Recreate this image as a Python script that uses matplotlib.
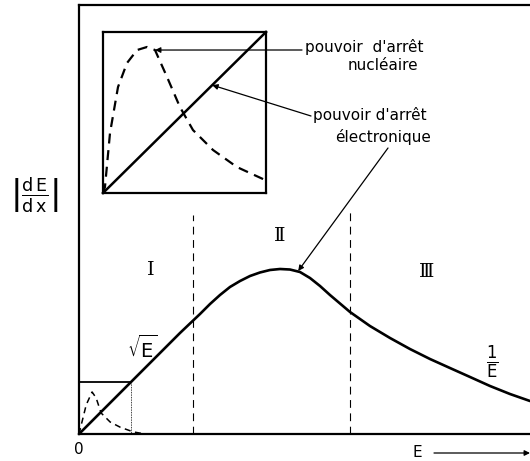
import matplotlib
matplotlib.use("agg")
import matplotlib.pyplot as plt

W, H = 530, 461

# main curve: electronic stopping power vs energy (arbitrary units 0..10)
energy = [0.000, 1.153, 2.239, 2.461, 2.683, 2.905, 3.126, 3.348, 3.570, 3.792, 4.013,
          4.235, 4.457, 4.678, 4.900, 5.122, 5.344, 5.565, 5.787, 6.009, 6.452, 6.896,
          7.339, 7.783, 8.226, 8.670, 9.113, 9.557, 10.000]
stopping = [0.000, 1.212, 2.354, 2.576, 2.797, 3.030, 3.240, 3.427, 3.566, 3.683, 3.765,
            3.823, 3.846, 3.834, 3.776, 3.636, 3.450, 3.240, 3.042, 2.844, 2.517, 2.238,
            1.981, 1.748, 1.538, 1.329, 1.119, 0.932, 0.769]

# nuclear stopping near the origin (same units)
nuc_energy = [0.0, 0.16, 0.29, 0.38, 0.49, 0.69, 0.91, 1.20, 1.46]
nuc_stopping = [0.0, 0.68, 0.98, 0.84, 0.49, 0.28, 0.16, 0.05, 0.0]

# zoomed inset (normalised 0..1)
inset_u = [0.0, 0.012, 0.043, 0.092, 0.147, 0.209, 0.270, 0.319, 0.393, 0.472, 0.552,
           0.675, 0.822, 0.994]
inset_nuc = [0.0, 0.037, 0.373, 0.658, 0.807, 0.888, 0.907, 0.888, 0.720, 0.534, 0.391,
             0.267, 0.161, 0.081]
inset_elec_u = [0.0, 1.0]
inset_elec = [0.0, 1.0]

zoom_E, zoom_S = 1.153, 1.212        # extent of the zoomed region
region_bounds = [2.53, 6.01]          # limits between regions I / II / III
region_tops = [5.1, 5.27]
peak_E, peak_S = 4.86, 3.80


def fpos(x, y):
    return x / W, 1 - y / H


fig = plt.figure(figsize=(W / 100, H / 100), dpi=100)

ax = fig.add_axes([79 / W, (H - 434) / H, 451 / W, 429 / H])
ax.set_xlim(0, 10)
ax.set_ylim(0, 10)
ax.set_xticks([])
ax.set_yticks([])
ax.spines["right"].set_visible(False)
for s in ["left", "top", "bottom"]:
    ax.spines[s].set_linewidth(1.6)

ax.plot(energy, stopping, color="black", lw=1.9, solid_capstyle="round",
        solid_joinstyle="round", clip_on=False)
ax.plot(nuc_energy, nuc_stopping, color="black", lw=1.1, ls=(0, (4, 3)))
ax.plot([0, zoom_E], [zoom_S, zoom_S], color="black", lw=1.3)
ax.plot([zoom_E, zoom_E], [0, zoom_S], color="black", lw=0.6, ls=(0, (1, 1)))
for xb, yt in zip(region_bounds, region_tops):
    ax.plot([xb, xb], [0, yt], color="black", lw=0.8, ls=(0, (7, 5)))

ins = fig.add_axes([103 / W, (H - 193) / H, 163 / W, 161 / H])
ins.set_xlim(0, 1)
ins.set_ylim(0, 1)
ins.set_xticks([])
ins.set_yticks([])
ins.patch.set_facecolor("none")
for s in ins.spines.values():
    s.set_linewidth(1.6)
ins.plot(inset_elec_u, inset_elec, color="black", lw=1.8, clip_on=False)
ins.plot(inset_u, inset_nuc, color="black", lw=1.6, ls=(0, (4.5, 3)))

txt = dict(fontsize=11, color="black", family="DejaVu Sans")
arrow = dict(arrowstyle="-|>", color="black", lw=0.9, mutation_scale=8,
             shrinkA=0, shrinkB=0)

# nuclear stopping label + arrow
fig.text(*fpos(305, 47), "pouvoir  d'arrêt", ha="left", va="center", **txt)
fig.text(*fpos(383, 66), "nucléaire", ha="center", va="center", **txt)
ax.annotate("", xy=(inset_u[7], inset_nuc[7]), xycoords=ins.transData,
            xytext=(302, H - 50), textcoords="figure pixels", arrowprops=arrow)

# electronic stopping label + arrows
fig.text(*fpos(313, 115), "pouvoir d'arrêt", ha="left", va="center", **txt)
fig.text(*fpos(383, 137), "électronique", ha="center", va="center", **txt)
ax.annotate("", xy=(0.67, 0.67), xycoords=ins.transData,
            xytext=(311, H - 116), textcoords="figure pixels", arrowprops=arrow)
ax.annotate("", xy=(peak_E, peak_S), xycoords="data",
            xytext=(388, H - 148), textcoords="figure pixels", arrowprops=arrow)

# region labels
roman = dict(ha="center", va="center", fontsize=14, family="DejaVu Serif")
fig.text(*fpos(151, 270), "Ⅰ", **roman)
fig.text(*fpos(280, 236), "Ⅱ", **roman)
fig.text(*fpos(427, 272), "Ⅲ", **roman)

plt.rcParams["mathtext.default"] = "regular"
fig.text(*fpos(142, 348), r"$\sqrt{E}$", ha="center", va="center", fontsize=14)
fig.text(*fpos(492, 362), r"$\frac{1}{E}$", ha="center", va="center", fontsize=17)
fig.text(*fpos(34, 195), r"$\left|\frac{d\,E}{d\,x}\right|$", ha="center", va="center",
         fontsize=18)

fig.text(*fpos(79, 449), "0", ha="center", va="center", fontsize=11)
fig.text(*fpos(417, 452), "E", ha="center", va="center", fontsize=11)
ax.annotate("", xy=(530, H - 453), xycoords="figure pixels",
            xytext=(434, H - 453), textcoords="figure pixels", arrowprops=arrow)

fig.savefig("out.png", dpi=100)
